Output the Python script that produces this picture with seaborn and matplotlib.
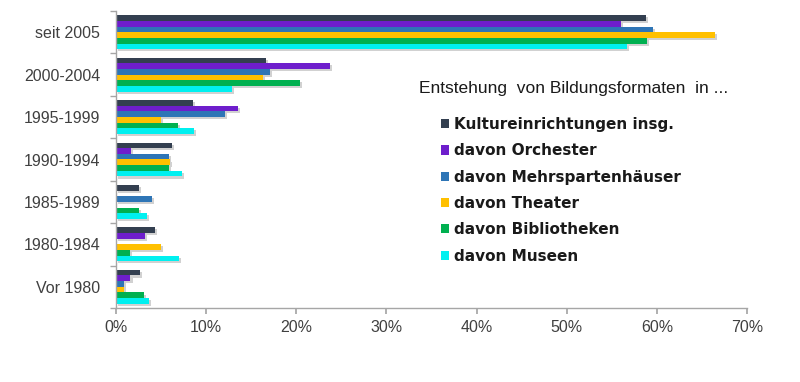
import matplotlib
matplotlib.use("Agg")
import matplotlib.pyplot as plt
import matplotlib.patheffects as pe
from matplotlib.ticker import FuncFormatter, FixedLocator
from matplotlib.patches import Patch
import seaborn as sns
import pandas as pd
import numpy as np

categories = ["seit 2005", "2000-2004", "1995-1999", "1990-1994",
              "1985-1989", "1980-1984", "Vor 1980"]
series_names = ["Kultureinrichtungen insg.", "davon Orchester",
                "davon Mehrspartenhäuser", "davon Theater",
                "davon Bibliotheken", "davon Museen"]
kultur = [58.8, 16.6, 8.5, 6.2, 2.5, 4.3, 2.7]
orchester = [56.0, 23.7, 13.5, 1.7, 0.0, 3.2, 1.6]
mehrsparten = [59.6, 17.1, 12.1, 5.9, 4.0, 0.0, 0.9]
theater = [66.4, 16.3, 5.0, 6.0, 0.0, 5.0, 0.9]
bibliotheken = [58.9, 20.4, 6.9, 5.9, 2.5, 1.5, 3.1]
museen = [56.7, 12.9, 8.6, 7.3, 3.4, 7.0, 3.7]
colors = ["#333F50", "#6E1ECC", "#2E75B6", "#FFC000", "#00B050", "#00F0F0"]
title_text = "Entstehung  von Bildungsformaten  in ..."
xticks = [0, 10, 20, 30, 40, 50, 60, 70]

values = [kultur, orchester, mehrsparten, theater, bibliotheken, museen]
rows = []
for name, vals in zip(series_names, values):
    for cat, v in zip(categories, vals):
        rows.append({"Zeitraum": cat, "Anteil": v, "Einrichtung": name})
df = pd.DataFrame(rows)

sns.set_theme(style="white")
plt.rcParams["font.family"] = ["Liberation Sans", "DejaVu Sans"]

fig = plt.figure(figsize=(8.0, 3.82), dpi=100)
ax = fig.add_axes([116/800, 1-308/382, (747-116)/800, (308-11)/382])

sns.barplot(data=df, y="Zeitraum", x="Anteil", hue="Einrichtung",
            order=categories, hue_order=series_names, palette=colors,
            orient="h", width=0.8, saturation=1, legend=False, ax=ax,
            errorbar=None)

for p in ax.patches:
    p.set_linewidth(0)
    p.set_path_effects([pe.SimplePatchShadow(offset=(1.5, -1.5), shadow_rgbFace="#9a9a9a", alpha=0.45),
                        pe.Normal()])

ax.set_xlim(0, 70)
ax.set_ylim(len(categories) - 0.5, -0.5)
ax.set_xticks(xticks)
ax.xaxis.set_major_formatter(FuncFormatter(lambda x, pos: f"{x:.0f}%"))
ax.set_xlabel("")
ax.set_ylabel("")

for s in ["top", "right"]:
    ax.spines[s].set_visible(False)
for s in ["left", "bottom"]:
    ax.spines[s].set_color("#A6A6A6")
    ax.spines[s].set_linewidth(1.0)

ax.tick_params(axis="y", which="major", length=0, pad=11.5, labelsize=11.5, labelcolor="#404040")
ax.yaxis.set_minor_locator(FixedLocator(np.arange(-0.5, len(categories), 1.0)))
ax.tick_params(axis="y", which="minor", length=4, color="#A6A6A6", direction="out", left=True)
ax.tick_params(axis="x", which="major", length=4, color="#A6A6A6", direction="out", bottom=True,
               pad=5, labelsize=11.5, labelcolor="#404040")

fig.text(419/800, 1-89/382, title_text, fontsize=12.5, color="#1a1a1a", va="center", ha="left")

handles = [Patch(facecolor=c, edgecolor="none") for c in colors]
leg = fig.legend(handles, series_names, loc="upper left", bbox_to_anchor=(441/800, 1-117/382),
                 frameon=False, handlelength=0.55, handleheight=0.55, handletextpad=0.3,
                 labelspacing=0.74, borderpad=0, borderaxespad=0,
                 prop={"family": "DejaVu Sans", "size": 11, "weight": "bold"})
for t in leg.get_texts():
    t.set_color("#1a1a1a")

fig.savefig("out.png", dpi=100, facecolor="white")
